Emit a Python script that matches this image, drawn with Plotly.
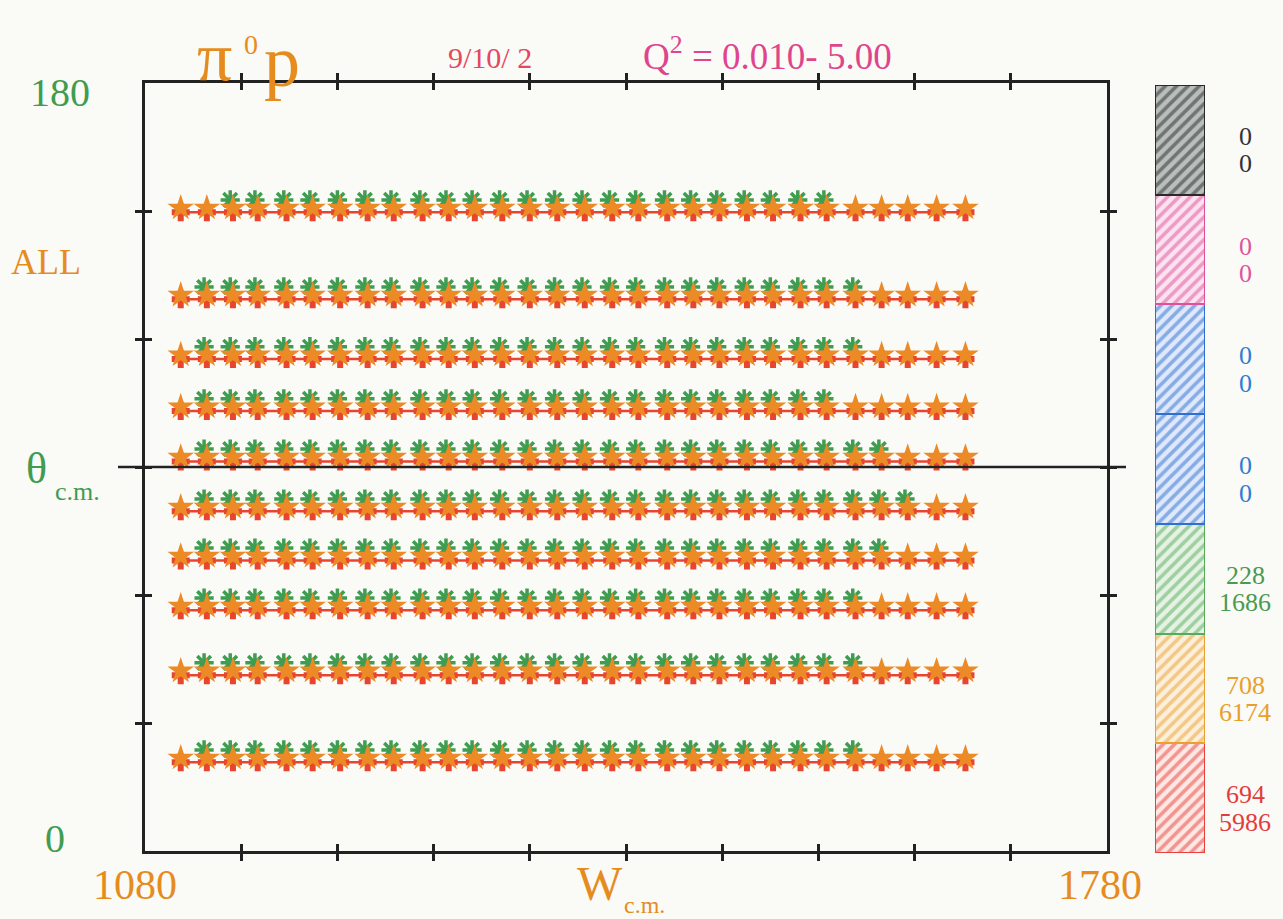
import plotly.graph_objects as go

# W (MeV) bin centres shared by every angular row
w_bins = [1106, 1125, 1144, 1162, 1183, 1202, 1222, 1242, 1261, 1282,
          1301, 1320, 1340, 1360, 1380, 1400, 1420, 1439, 1460, 1479,
          1498, 1518, 1537, 1557, 1576, 1597, 1616, 1635, 1656, 1677]
# green W points sit slightly low
w_green = [1104, 1123, 1142, 1160, 1181, 1200, 1220, 1240, 1259, 1280,
           1299, 1318, 1338, 1358, 1378, 1398, 1418, 1437, 1458, 1477,
           1496, 1516, 1535, 1555, 1574, 1595, 1614, 1633, 1654, 1675]

# theta_cm (deg) of each row for the three data sets
theta_red = [149.7, 129.3, 115.3, 103.1, 91.3, 79.6, 68.1, 56.4, 41.2, 20.8]
theta_orange = [150.7, 130.3, 116.3, 104.1, 92.3, 80.6, 69.1, 57.4, 42.2, 21.8]
theta_green = [152.6, 132.2, 118.2, 106.0, 94.2, 82.5, 71.0, 59.3, 44.1, 23.7]
# index range of W bins with green data in each row
green_first = [2, 1, 1, 1, 1, 1, 1, 1, 1, 1]
green_last = [24, 25, 25, 24, 26, 27, 26, 25, 25, 25]

# legend blocks (bottom to top): colour, counts
legend_colors = ["#e8403c", "#eaa030", "#58ab5c", "#2f6fd0", "#2f6fd0", "#e0509a", "#2a2a2a"]
legend_bg = ["#fde8e4", "#fcf0dc", "#e6f3e4", "#dfe9fb", "#dfe9fb", "#fbe4f0", "#b9bfbc"]
legend_text_colors = ["#e23c3c", "#e8a02a", "#4a9a50", "#2f7ed0", "#2f7ed0", "#e0559a", "#333333"]
legend_top = [694, 708, 228, 0, 0, 0, 0]
legend_bottom = [5986, 6174, 1686, 0, 0, 0, 0]
legend_share = [1, 1, 1, 1, 1, 1, 1]

x_ticks = [1150, 1220, 1290, 1360, 1430, 1500, 1570, 1640, 1710]
y_ticks = [30, 60, 90, 120, 150]

BG = "#fafaf7"
SERIF = "Liberation Serif"
ORANGE_TXT = "#e68c1e"
GREEN_TXT = "#3f9c50"
GREEN_PT = "#3e9d50"

fig = go.Figure()

# green points (drawn first so the others sit on top)
gx, gy = [], []
for r, th in enumerate(theta_green):
    for i in range(green_first[r], green_last[r] + 1):
        gx.append(w_green[i])
        gy.append(th)
fig.add_trace(go.Scatter(
    x=gx, y=gy, mode="markers", xaxis="x", yaxis="y",
    marker=dict(symbol="asterisk-open", size=16, color=GREEN_PT,
                line=dict(width=3.5, color=GREEN_PT)),
    showlegend=False, hoverinfo="skip"))

# red points joined along each row
rx, ry = [], []
for th in theta_red:
    rx += w_bins + [None]
    ry += [th] * len(w_bins) + [None]
fig.add_trace(go.Scatter(
    x=rx, y=ry, mode="lines+markers", xaxis="x", yaxis="y",
    line=dict(color="#e8452f", width=2.5),
    marker=dict(symbol="cross", size=15, color="#e8452f"),
    showlegend=False, hoverinfo="skip"))

# orange points
ox, oy = [], []
for th in theta_orange:
    ox += w_bins
    oy += [th] * len(w_bins)
fig.add_trace(go.Scatter(
    x=ox, y=oy, mode="markers", xaxis="x", yaxis="y",
    marker=dict(symbol="star", size=20, color="#ec8a25"),
    showlegend=False, hoverinfo="skip"))

# empty trace carrying the inside-tick overlay axes
fig.add_trace(go.Scatter(x=[None], y=[None], xaxis="x3", yaxis="y3",
                         showlegend=False, hoverinfo="skip"))

# hatched legend column
for i, h in enumerate(legend_share):
    fig.add_trace(go.Bar(
        x=[0], y=[h], xaxis="x2", yaxis="y2", width=1,
        marker=dict(color=legend_bg[i],
                    line=dict(color=legend_colors[i], width=2),
                    pattern=dict(shape="/", fgcolor=legend_colors[i],
                                 bgcolor=legend_bg[i], size=8, solidity=0.45,
                                 fillmode="overlay")),
        showlegend=False, hoverinfo="skip"))

x_dom = [145 / 1283, 1107 / 1283]
y_dom = [(919 - 851) / 919, (919 - 83) / 919]
axis_common = dict(showgrid=False, zeroline=False, showticklabels=False,
                   ticklen=7, tickwidth=2.5, tickcolor="#222")

fig.update_layout(
    width=1283, height=919,
    margin=dict(l=0, r=0, t=0, b=0),
    paper_bgcolor=BG, plot_bgcolor=BG,
    barmode="stack", bargap=0,
    xaxis=dict(domain=x_dom, range=[1080, 1780], tickvals=x_ticks, ticks="outside",
               showline=True, linewidth=2.5, linecolor="#222", mirror="ticks",
               anchor="y", **axis_common),
    yaxis=dict(domain=y_dom, range=[0, 180], tickvals=y_ticks, ticks="outside",
               showline=True, linewidth=2.5, linecolor="#222", mirror="ticks",
               anchor="x", **axis_common),
    xaxis3=dict(range=[1080, 1780], tickvals=x_ticks, ticks="inside", overlaying="x",
                showline=False, mirror="ticks", anchor="y3", **axis_common),
    yaxis3=dict(domain=y_dom, range=[0, 180], tickvals=y_ticks, ticks="inside", overlaying="y",
                showline=False, mirror="ticks", anchor="x3", **axis_common),
    xaxis2=dict(domain=[1155 / 1283, 1205 / 1283], range=[-0.5, 0.5], visible=False,
                anchor="y2"),
    yaxis2=dict(domain=[(919 - 853) / 919, (919 - 85) / 919], range=[0, 7], visible=False,
                anchor="x2"),
)

# horizontal reference line at 90 degrees, running past the frame
fig.add_shape(type="line", xref="paper", yref="y", x0=118 / 1283, x1=1126 / 1283,
              y0=90, y1=90, line=dict(color="#222", width=2.5), layer="above")

ann = []


def txt(x, y, s, size, color, xanchor="center", yanchor="middle"):
    ann.append(dict(x=x / 1283, y=1 - y / 919, xref="paper", yref="paper", text=s,
                    showarrow=False, xanchor=xanchor, yanchor=yanchor,
                    font=dict(family=SERIF, size=size, color=color)))


# reaction label
txt(214, 56, "π", 70, ORANGE_TXT)
txt(251, 45, "0", 28, ORANGE_TXT)
txt(282, 62, "p", 72, ORANGE_TXT)

txt(490, 57, "9/10/ 2", 30, "#e4485e")
txt(767, 54, "Q<sup>2</sup> = 0.010- 5.00", 37, "#e0448c")
txt(60, 92, "180", 40, GREEN_TXT)
txt(55, 838, "0", 40, GREEN_TXT)
txt(46, 262, "ALL", 36, ORANGE_TXT)
txt(36, 468, "θ", 44, GREEN_TXT)
txt(77, 491, "c.m.", 26, GREEN_TXT)
txt(135, 885, "1080", 42, ORANGE_TXT)
txt(1100, 885, "1780", 42, ORANGE_TXT)
txt(600, 883, "W", 48, ORANGE_TXT)
txt(644, 905, "c.m.", 24, ORANGE_TXT)

# counts beside each legend block
for i in range(len(legend_share)):
    for dy, val in ((0.125, legend_top[i]), (-0.125, legend_bottom[i])):
        ann.append(dict(x=1245 / 1283, y=i + 0.405 + dy, xref="paper", yref="y2",
                        text=str(val), showarrow=False,
                        xanchor="center", yanchor="middle",
                        font=dict(family=SERIF, size=26, color=legend_text_colors[i])))

fig.update_layout(annotations=ann)
fig.write_html("out.html")
